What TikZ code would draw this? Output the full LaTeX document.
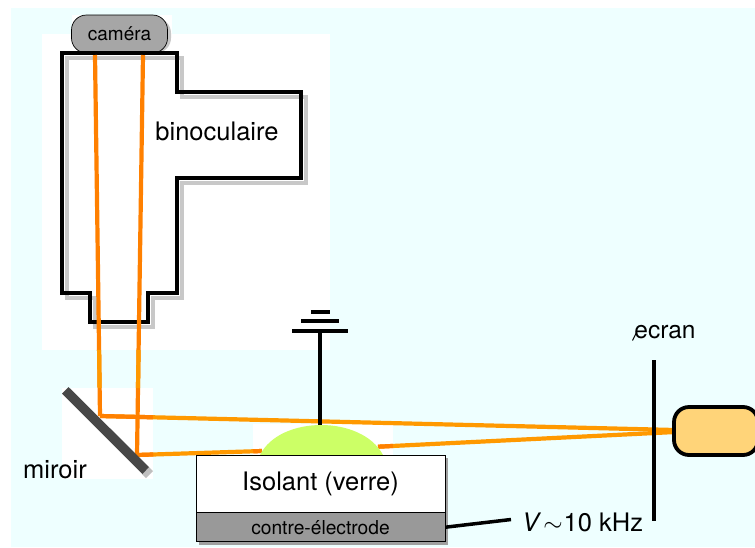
\documentclass[tikz,border=0pt]{standalone}
\usepackage{fontspec}
\setmainfont{TeX Gyre Heros}
\usetikzlibrary{calc}
\definecolor{paleblue}{RGB}{238,255,255}
\definecolor{rayorange}{RGB}{255,128,0}
\definecolor{raylight}{RGB}{255,153,0}
\definecolor{dropgrey}{RGB}{200,200,200}
\definecolor{blobgreen}{RGB}{204,255,102}
\definecolor{lampyellow}{RGB}{255,212,121}
\tikzset{
	patch/.style={fill=white},
	ray/.style={rayorange, line width=4.2pt},
	raypale/.style={raylight, line width=4.2pt},
	wall/.style={black, line width=4pt, line join=miter},
	wallshadow/.style={dropgrey, line width=4pt, xshift=5pt, yshift=-5pt},
	boxlabel/.style={inner sep=0pt, font=\fontsize{25.5}{28}\selectfont}
}

\begin{document}
\begin{tikzpicture}[x=1pt, y=-1pt]

	\useasboundingbox (0,0) rectangle (755,547);

	% background and white patches
	\fill[paleblue] (11,8) rectangle (755,547);
	\fill[patch] (42,34) rectangle (330,350);
	\fill[patch] (72,15) rectangle (172,34);
	\fill[patch] (62,388) rectangle (153,479);
	\fill[patch] (253,424) rectangle (393,455);

	% binoculaire
	\draw[wallshadow] (62,53) -- (177,53) -- (177,92) -- (301,92) -- (301,178) -- (177,178) -- (177,293) -- (148,293) -- (148,322) -- (90,322) -- (90,293) -- (62,293) -- cycle;
	\draw[wall] (62,53) -- (177,53) -- (177,92) -- (301,92) -- (301,178) -- (177,178) -- (177,293) -- (148,293) -- (148,322) -- (90,322) -- (90,293) -- (62,293) -- cycle;
	\node[boxlabel] (binoculaire) at (217,131) {binoculaire};

	% camera
	\fill[dropgrey, rounded corners=15pt] (74,18) rectangle (171,53);
	\node[draw=black, fill=black!35, line width=0.7pt, rounded corners=15pt, minimum width=96pt, minimum height=38pt, inner sep=0pt, font=\fontsize{19}{21}\selectfont] (camera) at (119.5,34) {\raisebox{1pt}{caméra}};
	\draw[wall] (62,53) -- (177,53);

	% ray end points
	\coordinate (camleft) at (95,55);
	\coordinate (camright) at (143,55);
	\coordinate (mirleft) at (100,416);
	\coordinate (mirright) at (137,455);
	\coordinate (lampup) at (675,430);
	\coordinate (lampdown) at (675,432);
	\coordinate (blobleft) at (262,451);
	\coordinate (blobright) at (378,446.7);

	% rays seen by the binoculaire
	\draw[ray] (camleft) -- (mirleft);
	\draw[ray] (camright) -- (mirright);
	\draw[raypale] ($(camleft)!0.817!(mirleft)$) -- ($(camleft)!0.922!(mirleft)$);
	\draw[raypale] ($(camright)!0.7375!(mirright)$) -- ($(camright)!0.8325!(mirright)$);

	% rays from the glass to the screen
	\draw[raypale] (mirleft) -- (lampup);
	\draw[ray] (mirleft) -- ($(mirleft)!0.092!(lampup)$);
	\draw[raypale] (mirright) -- (blobleft);
	\draw[ray] (mirright) -- ($(mirright)!0.13!(blobleft)$);
	\draw[ray] ($(mirright)!0.93!(blobleft)$) -- (blobleft);
	\draw[raypale] (blobright) -- (lampdown);
	\draw[ray] (blobright) -- ($(blobright)!0.05!(lampdown)$);

	% miroir
	\fill[black!25] (142,474) -- (149,467) -- (153,471) -- (146,478) -- cycle;
	\fill[black!72] (62,393.5) -- (68.5,387) -- (149,467) -- (142.5,474) -- cycle;
	\node[boxlabel] (miroir) at (55,470) {miroir};

	% masse
	\draw[black, line width=3.5pt] (320,332) -- (320,425);
	\foreach \barx/\bary/\barlen in {292/331/56, 301/321/38, 311/312/19}
		\draw[black, line width=3.5pt] (\barx,\bary) -- ++(\barlen,0);

	% goutte
	\fill[blobgreen] (260,455) .. controls (280,415) and (362,415) .. (383,455) -- cycle;

	% isolant and contre-electrode
	\fill[dropgrey!80!black] (199,458) rectangle (448,545);
	\node[draw=black, fill=white, line width=0.7pt, minimum width=249pt, minimum height=57pt, inner sep=0pt, font=\fontsize{25.5}{28}\selectfont] (isolant) at (320.5,483.5) {\raisebox{2.5pt}{Isolant (verre)}};
	\node[draw=black, fill=black!40, line width=0.7pt, minimum width=249pt, minimum height=29pt, inner sep=0pt, anchor=north, font=\fontsize{19.2}{21}\selectfont] (contre) at (isolant.south) {contre-électrode};

	% tension
	\node[boxlabel, anchor=west] (tension) at (522,522.5) {\textit{V}\kern2pt$\sim$\kern1pt 10 kHz};
	\draw[black, line width=3.5pt] (contre.east) -- (511,519.5);

	% ecran
	\coordinate (screentop) at (654,360);
	\coordinate (screenbot) at (654,521);
	\draw[black, line width=4pt] (screentop) -- (screenbot);
	\node[boxlabel, font=\fontsize{24.5}{27}\selectfont] (ecran) at (665,332.5) {ecran};
	\draw[black, line width=1pt] (632.5,340.5) -- (636.5,332.5);

	% lampe
	\draw[black, fill=lampyellow, line width=3.8pt, rounded corners=15pt] (674,407) rectangle (758,455);

\end{tikzpicture}
\end{document}
